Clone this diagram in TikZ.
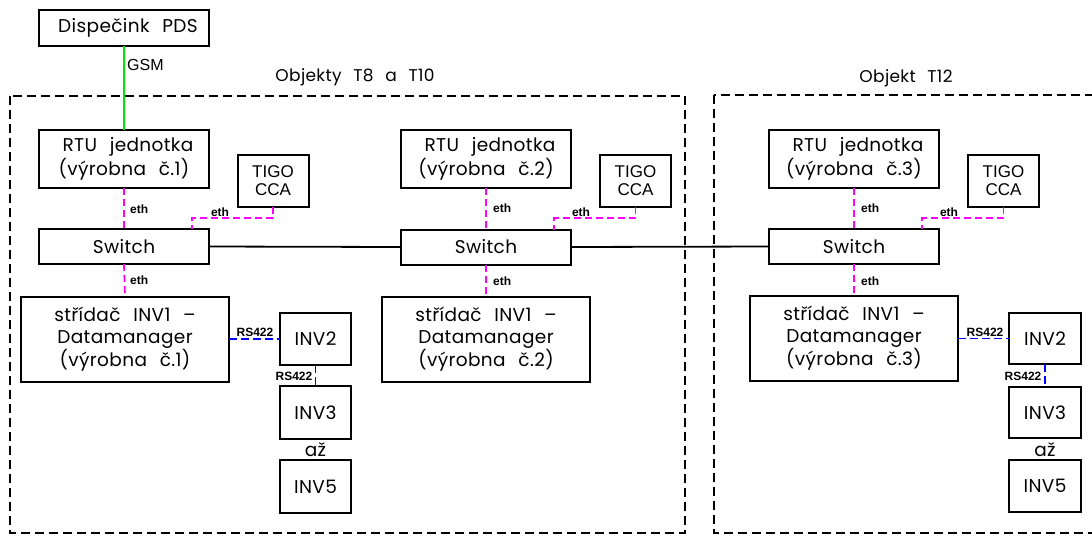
\documentclass[tikz,border=0pt]{standalone}
\usepackage{fontspec}
\setmainfont{Poppins}[WordSpace=2.4, LetterSpace=2]
\newfontfamily\arial{Liberation Sans}
\usetikzlibrary{calc}
\definecolor{ethcol}{RGB}{255,0,255}
\definecolor{gsmcol}{RGB}{0,230,0}
\definecolor{rscol}{RGB}{0,0,255}
\tikzset{
  box/.style={draw, line width=2pt, inner sep=0pt, outer sep=0pt, align=center,
    font=\fontsize{18.5}{24}\selectfont},
  bigbox/.style={box, minimum width=208pt, minimum height=85pt,
    font=\fontsize{18.5}{21.5}\selectfont},
  rtubox/.style={box, minimum width=170pt, minimum height=58pt},
  swbox/.style={box, minimum width=170pt, minimum height=35pt},
  tigobox/.style={box, minimum width=71pt, minimum height=52pt,
    font=\arial\fontsize{17}{18}\selectfont},
  invbox/.style={box, minimum width=71pt, minimum height=52pt},
  group/.style={draw, line width=1.5pt, dash pattern=on 9pt off 5pt},
  ethline/.style={draw=ethcol, line width=1.8pt, dash pattern=on 7pt off 4pt},
  rsline/.style={draw=rscol, line width=1.8pt, dash pattern=on 8pt off 4pt},
  gsmline/.style={draw=gsmcol, line width=1.8pt},
  lanline/.style={draw, line width=1.8pt},
  tag/.style={font=\arial\bfseries\fontsize{12}{12}\selectfont, inner sep=0pt},
  title/.style={font=\fontsize{17}{20}\selectfont, inner sep=0pt},
}
\begin{document}
\begin{tikzpicture}[x=1pt, y=-1pt]
\useasboundingbox (0,0) rectangle (1092,536);

% site enclosures
\begin{scope}
\clip (0,0) rectangle (1092,536);
\draw[group] (10,96) rectangle (685,533);
\draw[group] (714,95) rectangle (1110,533);
\end{scope}
\node[title] (t1) at (355,77) {Objekty T8 a T10};
\node[title] (t2) at (906,78) {Objekt T12};

% dispatching centre
\node[box, minimum width=170pt, minimum height=36pt] (disp) at (124,28) {\hspace*{8pt}Dispečink PDS};

% plant 1
\node[rtubox] (rtu1) at (124,159) {\hspace*{8pt}RTU jednotka\\(výrobna č.1)};
\node[tigobox] (tigo1) at (273,181) {TIGO\\CCA};
\node[swbox] (sw1) at (124,246.5) {Switch};
\node[bigbox] (inva1) at (125,339.5) {střídač INV1 –\\Datamanager\\(výrobna č.1)};
\node[invbox] (invb1) at (315.5,339) {INV2};
\node[invbox, minimum height=53pt] (invc1) at (315.5,412.5) {INV3};
\node[invbox, minimum height=53pt] (invd1) at (315.5,486.5) {INV5};
\node[box, draw=none] (az1) at (315.5,450) {až};

% plant 2
\node[rtubox] (rtu2) at (486,159) {\hspace*{8pt}RTU jednotka\\(výrobna č.2)};
\node[tigobox] (tigo2) at (635.5,181) {TIGO\\CCA};
\node[swbox] (sw2) at (486,247) {Switch};
\node[bigbox] (inva2) at (486,339.5) {střídač INV1 –\\Datamanager\\(výrobna č.2)};

% plant 3
\node[rtubox] (rtu3) at (854,159) {\hspace*{8pt}RTU jednotka\\(výrobna č.3)};
\node[tigobox] (tigo3) at (1003.5,181) {TIGO\\CCA};
\node[swbox] (sw3) at (854,246.5) {Switch};
\node[bigbox] (inva3) at (854,338.5) {střídač INV1 –\\Datamanager\\(výrobna č.3)};
\node[invbox, minimum width=72pt, minimum height=51pt] (invb3) at (1045,338.5) {INV2};
\node[invbox, minimum width=72pt, minimum height=51pt] (invc3) at (1045,412.5) {INV3};
\node[invbox, minimum width=72pt, minimum height=52pt] (invd3) at (1045,486) {INV5};
\node[box, draw=none] (az3) at (1045,450) {až};

% GSM link
\draw[gsmline] (disp.south) -- (rtu1.north);
\node[font=\arial\fontsize{16}{16}\selectfont, inner sep=0pt, anchor=west] (gsm) at (127,65) {GSM};

% LAN between switches
\draw[lanline] (sw1.east) -- (sw2.west);
\draw[lanline] (sw2.east) -- (sw3.west);

% ethernet links
\foreach \r/\s/\i in {rtu1/sw1/inva1, rtu2/sw2/inva2, rtu3/sw3/inva3}{
  \draw[ethline] (\r.south) -- (\s.north);
  \draw[ethline] (\s.south) -- (\i.north);
}
\foreach \t/\s in {tigo1/sw1, tigo2/sw2, tigo3/sw3}{
  \draw[ethline] (\t.south) -- ++(0,11) -| ([xshift=-17pt]\s.north east);
}
\node[tag, anchor=west] (e1) at (130,209) {eth};
\node[tag, anchor=west] (e2) at (130,280) {eth};
\node[tag] (e3) at (220,212) {eth};
\node[tag, anchor=west] (e4) at (493,208) {eth};
\node[tag, anchor=west] (e5) at (493,281) {eth};
\node[tag] (e6) at (581,212) {eth};
\node[tag, anchor=west] (e7) at (861,208) {eth};
\node[tag, anchor=west] (e8) at (861,281) {eth};
\node[tag] (e9) at (949,212) {eth};

% RS422 links
\draw[rsline] (invb1.west -| inva1.east) -- (invb1.west);
\draw[rsline] (invb1.south) -- (invc1.north);
\draw[rsline] (invb3.west -| inva3.east) -- (invb3.west);
\draw[rsline] (invb3.south) -- (invc3.north);
\node[tag] (r1) at (255,332) {RS422};
\node[tag] (r2) at (294,376) {RS422};
\node[tag] (r3) at (985,332) {RS422};
\node[tag] (r4) at (1023,376) {RS422};
\end{tikzpicture}
\end{document}
